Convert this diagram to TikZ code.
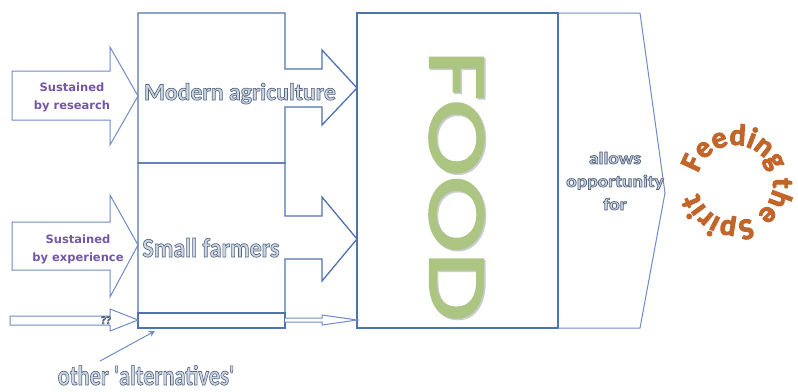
\documentclass[tikz,border=0pt]{standalone}
\usepackage{fontspec}
\usepackage{graphicx}
\usetikzlibrary{decorations.text,arrows.meta}
\setmainfont{Carlito}
\newfontfamily\labelfont{DejaVu Sans}
\newfontfamily\foodfont{Poppins}

\definecolor{boxblue}{HTML}{4F72B0}
\definecolor{arrowblue}{HTML}{6F8CC4}
\definecolor{inkgrey}{HTML}{56667F}
\definecolor{sustain}{HTML}{7456A6}
\definecolor{foodgreen}{HTML}{ADC583}
\definecolor{foodshade}{HTML}{C9CDD6}
\definecolor{spirit}{HTML}{C2652B}

% hollow lettering: pale fill with a dark outline (text render mode 2)
\newcommand\hollow[1]{\special{pdf:literal direct 2 Tr 0.7 w 0.80 0.84 0.90 rg}#1\special{pdf:literal direct 0 Tr}}
% heavier lettering: fill and stroke in the current colour
\newcommand\heavy[2]{\special{pdf:literal direct 2 Tr #1 w}#2\special{pdf:literal direct 0 Tr}}
\newcommand\spiritstyle{\color{spirit}\bfseries\fontsize{30}{30}\selectfont\special{pdf:literal direct 2 Tr 1 w}}

\tikzset{
  boxline/.style={draw=boxblue, line width=1.3pt, line join=miter},
  arrowline/.style={draw=arrowblue, line width=1pt, fill=white, line join=miter},
  hollowtext/.style={text=inkgrey, inner sep=0pt, font=\bfseries},
  sustaintext/.style={text=sustain, inner sep=0pt, align=center,
    font=\labelfont\bfseries\fontsize{11.5}{18}\selectfont},
  foodtext/.style={rotate=-90, anchor=base, inner sep=0pt,
    font=\foodfont\fontsize{76}{76}\selectfont},
}

\begin{document}
\begin{tikzpicture}[x=1pt, y=-1pt]
\fill[white] (0,0) rectangle (798,391);
\useasboundingbox (0,0) rectangle (798,391);

% producer boxes merged with their outgoing block arrows
\draw[boxline] (138,163) -- (138,13) -- (285,13) -- (285,69) -- (322,69) -- (322,50)
  -- (357,88) -- (322,125) -- (322,107) -- (285,107) -- (285,163) -- cycle;
\draw[boxline] (138,163) -- (285,163) -- (285,216) -- (322,216) -- (322,197)
  -- (357,239) -- (322,281) -- (322,259) -- (285,259) -- (285,313) -- (138,313) -- cycle;
\draw[boxline] (138,313) rectangle (285,328);
\draw[boxblue, line width=2.2pt] (138,313) -- (285,313);

% food box and the chevron beside it
\draw[boxline] (357,13) rectangle (558,328);
\draw[boxblue, line width=2pt] (558,13) -- (558,328);
\draw[arrowline, fill=none] (558,13) -- (640,13) -- (665,193) -- (640,328) -- (558,328);

% incoming block arrows
\draw[arrowline] (12,71) -- (110,71) -- (110,47) -- (138,96) -- (110,145) -- (110,120) -- (12,120) -- cycle;
\draw[arrowline] (12,222) -- (110,222) -- (110,195) -- (138,245) -- (110,297) -- (110,270) -- (12,270) -- cycle;
\draw[arrowline] (10,316) -- (110,316) -- (110,309) -- (138,320) -- (110,331) -- (110,325) -- (10,325) -- cycle;
\draw[arrowline] (285,318) -- (322,318) -- (322,315) -- (357,320) -- (322,325) -- (322,322) -- (285,322);

% labels
\node[sustaintext, anchor=base] (research) at (72,109) {Sustained\\by research};
\node[sustaintext, anchor=base] (experience) at (78,261) {Sustained\\by experience};
\node[hollowtext, anchor=base, font=\bfseries\fontsize{24}{24}\selectfont] (modern) at (240,100)
  {\scalebox{0.99}[1]{\hollow{Modern agriculture}}};
\node[hollowtext, anchor=base, font=\bfseries\fontsize{27}{27}\selectfont] (small) at (211,257)
  {\scalebox{0.89}[1]{\hollow{Small farmers}}};
\node[hollowtext, anchor=base, font=\bfseries\fontsize{11}{11}\selectfont] (unknown) at (106,324)
  {\hollow{??}};
\node[hollowtext, anchor=base, font=\bfseries\fontsize{28}{28}\selectfont] (alt) at (146,385)
  {\scalebox{0.8}[1]{\hollow{other \textquotesingle alternatives\textquotesingle}}};
\coordinate (altstart) at (100,361);
\coordinate (stripfoot) at (155,331);
\draw[arrowblue, line width=1pt, -{Stealth[length=6pt,width=6pt]}] (altstart) -- (stripfoot);

\node[hollowtext, align=center, font=\bfseries\fontsize{17}{23}\selectfont] (allows) at (615,181)
  {\scalebox{1.15}[1]{\hollow{allows}}\\\scalebox{1.15}[1]{\hollow{opportunity}}\\\scalebox{1.15}[1]{\hollow{for}}};

% FOOD, set sideways with a soft shadow
\node[foodtext, text=foodshade] (foodshadow) at (431.5,187.5)
  {\scalebox{1.28}[1]{\heavy{2.5}{FOOD}}};
\node[foodtext, text=foodgreen] (food) at (430,186)
  {\scalebox{1.28}[1]{\heavy{2.5}{FOOD}}};

% circular lettering
\begin{scope}[shift={(735,183)}, y=1pt]
  \path[decorate, decoration={text along path, text align=center,
      text={|\spiritstyle|Feeding the Spirit}}]
    (170:38) arc[start angle=170, end angle=-170, radius=38];
\end{scope}
\end{tikzpicture}
\end{document}
